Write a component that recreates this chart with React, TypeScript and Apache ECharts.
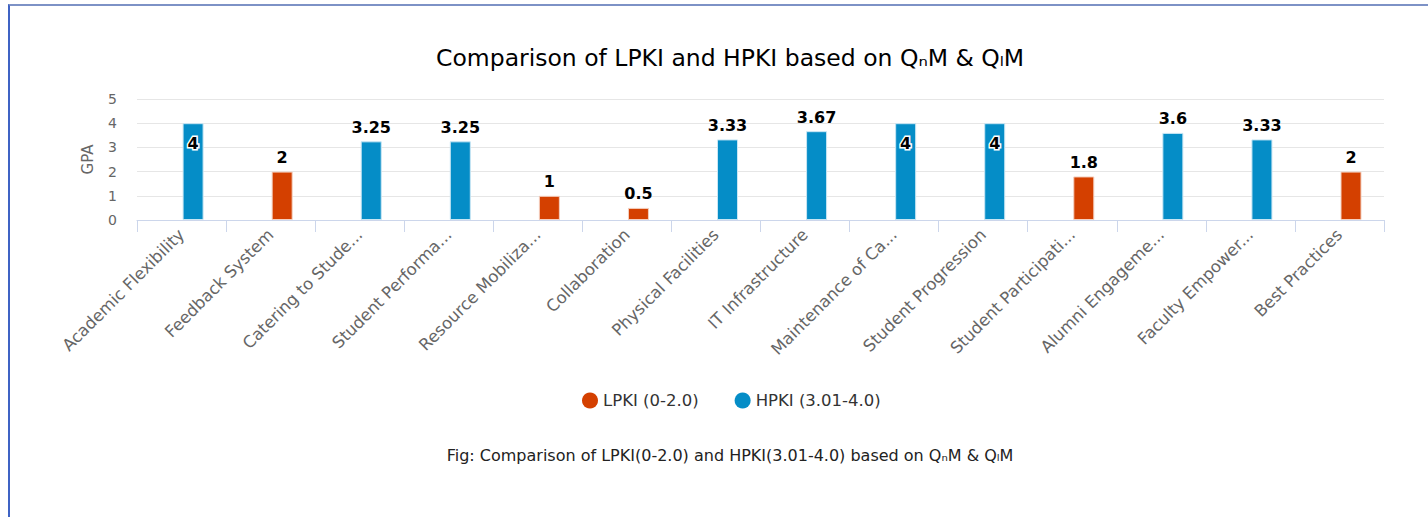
import React, { useEffect, useRef } from "react";
import * as echarts from "echarts";

const categories = [
  "Academic Flexibility",
  "Feedback System",
  "Catering to Stude...",
  "Student Performa...",
  "Resource Mobiliza...",
  "Collaboration",
  "Physical Facilities",
  "IT Infrastructure",
  "Maintenance of Ca...",
  "Student Progression",
  "Student Participati...",
  "Alumni Engageme...",
  "Faculty Empower...",
  "Best Practices",
];

const lpkiValues: (number | null)[] = [null, 2, null, null, 1, 0.5, null, null, null, null, 1.8, null, null, 2];
const hpkiValues: (number | null)[] = [4, null, 3.25, 3.25, null, null, 3.33, 3.67, 4, 4, null, 3.6, 3.33, null];

const yTicks = [0, 1, 2, 3, 4, 5];

const seriesNames = ["LPKI (0-2.0)", "HPKI (3.01-4.0)"];
const colors = ["#d44000", "#058dc7"];
const titleText = "Comparison of LPKI and HPKI based on Q\u2099M & Q\u2097M";
const captionText = "Fig: Comparison of LPKI(0-2.0) and HPKI(3.01-4.0) based on Q\u2099M & Q\u2097M";

const FONT = "'DejaVu Sans', Verdana, sans-serif";

function toData(values: (number | null)[]) {
  return values.map((v) => {
    if (v === null) return null;
    if (v >= 4) {
      return {
        value: v,
        label: {
          position: "insideTop",
          distance: 12,
          textBorderColor: "#fff",
          textBorderWidth: 3,
        },
      };
    }
    return { value: v };
  });
}

export default function App() {
  const ref = useRef<HTMLDivElement>(null);

  useEffect(() => {
    if (!ref.current) return;
    const chart = echarts.init(ref.current, undefined, { renderer: "svg" });
    const barLabel = {
      show: true,
      position: "top",
      distance: 6,
      color: "#000",
      fontSize: 16,
      fontWeight: "bold",
      fontFamily: FONT,
    };
    chart.setOption({
      animation: false,
      graphic: [
        {
          type: "text",
          x: 730,
          y: 58,
          style: {
            text: titleText,
            textAlign: "center",
            textVerticalAlign: "middle",
            fill: "#000",
            font: `23.5px ${FONT}`,
          },
        },
        {
          type: "text",
          x: 730,
          y: 455,
          style: {
            text: captionText,
            textAlign: "center",
            textVerticalAlign: "middle",
            fill: "#222",
            font: `16px ${FONT}`,
          },
        },
      ],
      legend: {
        data: seriesNames,
        left: 577,
        top: 387,
        icon: "circle",
        itemWidth: 16,
        itemHeight: 16,
        itemGap: 36,
        itemStyle: { borderWidth: 0 },
        textStyle: { color: "#333", fontSize: 16.5, fontFamily: FONT },
      },
      grid: { left: 137, right: 44, top: 99, bottom: 297, containLabel: false },
      xAxis: {
        type: "category",
        data: categories,
        axisLine: { lineStyle: { color: "#ccd6eb" } },
        axisTick: { show: true, length: 12, lineStyle: { color: "#ccd6eb" } },
        axisLabel: {
          rotate: 45,
          interval: 0,
          color: "#666",
          fontSize: 16.5,
          fontFamily: FONT,
          margin: 12,
        },
      },
      yAxis: {
        type: "value",
        min: yTicks[0],
        max: yTicks[yTicks.length - 1],
        interval: 1,
        name: "GPA",
        nameLocation: "middle",
        nameGap: 42,
        nameTextStyle: { color: "#666", fontSize: 15, fontFamily: FONT },
        axisLine: { show: false },
        axisTick: { show: false },
        axisLabel: { color: "#666", fontSize: 14, fontFamily: FONT, margin: 20 },
        splitLine: { lineStyle: { color: "#e6e6e6" } },
      },
      series: [
        {
          name: "_spacer",
          type: "bar",
          stack: "spacer",
          barWidth: 21,
          data: categories.map(() => null),
        },
        {
          name: seriesNames[0],
          type: "bar",
          stack: "kpi",
          barWidth: 21,
          itemStyle: { color: colors[0], borderColor: "#f4d0c0", borderWidth: 1 },
          label: barLabel,
          data: toData(lpkiValues),
        },
        {
          name: seriesNames[1],
          type: "bar",
          stack: "kpi",
          barWidth: 21,
          itemStyle: { color: colors[1], borderColor: "#c8e6f4", borderWidth: 1 },
          label: barLabel,
          data: toData(hpkiValues),
        },
      ],
    });
    return () => chart.dispose();
  }, []);

  return (
    <div
      style={{
        position: "fixed",
        left: 0,
        top: 0,
        width: 1428,
        height: 517,
        overflow: "hidden",
        background: "#fff",
      }}
    >
      <div
        style={{
          position: "absolute",
          left: 8,
          top: 4,
          width: 1440,
          height: 540,
          borderLeft: "2px solid #3f63c4",
          borderTop: "2px solid #7d92c6",
          boxSizing: "border-box",
        }}
      />
      <div ref={ref} style={{ position: "absolute", left: 0, top: 0, width: 1428, height: 517 }} />
    </div>
  );
}
